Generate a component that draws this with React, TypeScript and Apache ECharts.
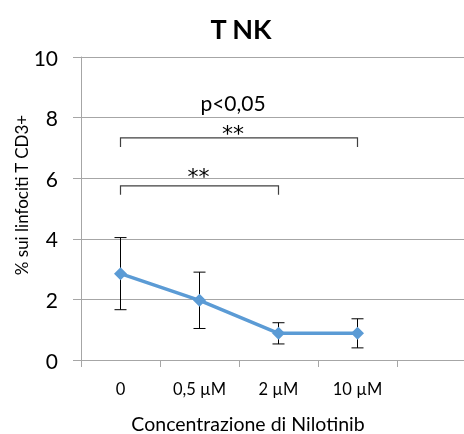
import React, { useEffect, useRef } from "react";
import * as echarts from "echarts";

const categories = ["0", "0,5 µM", "2 µM", "10 µM", ""];
const means = [2.85, 1.97, 0.88, 0.88];
const errors = [1.19, 0.93, 0.35, 0.48];
const bracketStart = [0, 0];
const bracketEnd = [3, 2];
const bracketLevel = [7.33, 5.75];
const bracketLabels = ["**", "**"];
const pLabel = "p<0,05";
const titleText = "T NK";
const yName = "% sui linfociti T CD3+";
const xName = "Concentrazione di Nilotinib";

const FONT = "Lato, 'Open Sans', sans-serif";
const GRID = "#A6A6A6";

export default function App() {
  const ref = useRef<HTMLDivElement>(null);
  useEffect(() => {
    if (!ref.current) return;
    const chart = echarts.init(ref.current, null, { renderer: "svg" });
    const errData = means.map((m, i) => [i, m - errors[i], m + errors[i]]);
    const brData = bracketLevel.map((lv, i) => [bracketStart[i], bracketEnd[i], lv, i]);
    const starOffset = [9, 14];
    chart.setOption({
      animation: false,
      textStyle: { fontFamily: FONT },
      title: {
        text: titleText,
        left: 236,
        top: 10,
        textAlign: "center",
        textStyle: { fontFamily: FONT, fontWeight: "bold", fontSize: 27, color: "#000" },
      },
      grid: { left: 81, top: 57, width: 395, height: 303, containLabel: false },
      xAxis: {
        type: "category",
        data: categories,
        boundaryGap: true,
        axisLine: { show: true, lineStyle: { color: GRID, width: 1 } },
        axisTick: { show: true, length: 7, interval: 0, lineStyle: { color: GRID } },
        axisLabel: { color: "#000", fontSize: 16.5, fontFamily: FONT, margin: 20, interval: 0 },
        splitLine: { show: false },
      },
      yAxis: {
        type: "value",
        min: 0,
        max: 10,
        interval: 2,
        axisLine: { show: true, lineStyle: { color: GRID, width: 1 } },
        axisTick: { show: true, length: 8, lineStyle: { color: GRID } },
        axisLabel: { color: "#000", fontSize: 21, fontFamily: FONT, margin: 23 },
        splitLine: { show: true, lineStyle: { color: GRID, width: 1 } },
      },
      graphic: [
        {
          type: "text",
          x: 21,
          y: 195,
          rotation: Math.PI / 2,
          style: { text: yName, fontSize: 17, fontFamily: FONT, fill: "#000", align: "center", verticalAlign: "middle" },
        },
        {
          type: "text",
          x: 248,
          y: 423,
          style: { text: xName, fontSize: 19.5, fontFamily: FONT, fill: "#000", align: "center", verticalAlign: "middle" },
        },
      ],
      series: [
        {
          type: "line",
          data: means,
          symbol: "diamond",
          symbolSize: 13,
          lineStyle: { color: "#5B9BD5", width: 3.5 },
          itemStyle: { color: "#5B9BD5" },
          z: 3,
        },
        {
          type: "custom",
          data: errData,
          encode: { x: 0, y: [1, 2] },
          z: 2,
          renderItem: (params: any, api: any) => {
            const lo = api.coord([api.value(0), api.value(1)]);
            const hi = api.coord([api.value(0), api.value(2)]);
            const w = 6;
            const st = { stroke: "#000", lineWidth: 1 };
            return {
              type: "group",
              children: [
                { type: "line", shape: { x1: lo[0], y1: lo[1], x2: hi[0], y2: hi[1] }, style: st },
                { type: "line", shape: { x1: lo[0] - w, y1: lo[1], x2: lo[0] + w, y2: lo[1] }, style: st },
                { type: "line", shape: { x1: hi[0] - w, y1: hi[1], x2: hi[0] + w, y2: hi[1] }, style: st },
              ],
            };
          },
        },
        {
          type: "custom",
          data: brData,
          encode: { x: [0, 1], y: 2 },
          z: 4,
          renderItem: (params: any, api: any) => {
            const idx = api.value(3);
            const a = api.coord([api.value(0), api.value(2)]);
            const b = api.coord([api.value(1), api.value(2)]);
            const leg = 9;
            const cx = (a[0] + b[0]) / 2;
            const children: any[] = [
              {
                type: "polyline",
                shape: { points: [[a[0], a[1] + leg], [a[0], a[1]], [b[0], b[1]], [b[0], b[1] + leg]] },
                style: { stroke: "#404040", lineWidth: 1.2, fill: null },
              },
              {
                type: "text",
                x: idx === 0 ? cx - 6 : cx - 1,
                y: a[1] - starOffset[idx] + 5,
                style: { text: bracketLabels[idx], fontSize: 22, fontFamily: "'DejaVu Sans', sans-serif", fill: "#000", align: "center", verticalAlign: "middle" },
              },
            ];
            if (idx === 0) {
              children.push({
                type: "text",
                x: cx - 6,
                y: a[1] - 35,
                style: { text: pLabel, fontSize: 21, fontFamily: FONT, fill: "#000", align: "center", verticalAlign: "middle" },
              });
            }
            return { type: "group", children };
          },
        },
      ],
    });
    return () => chart.dispose();
  }, []);
  return <div ref={ref} style={{ position: "fixed", left: 0, top: 0, width: 480, height: 434 }} />;
}
